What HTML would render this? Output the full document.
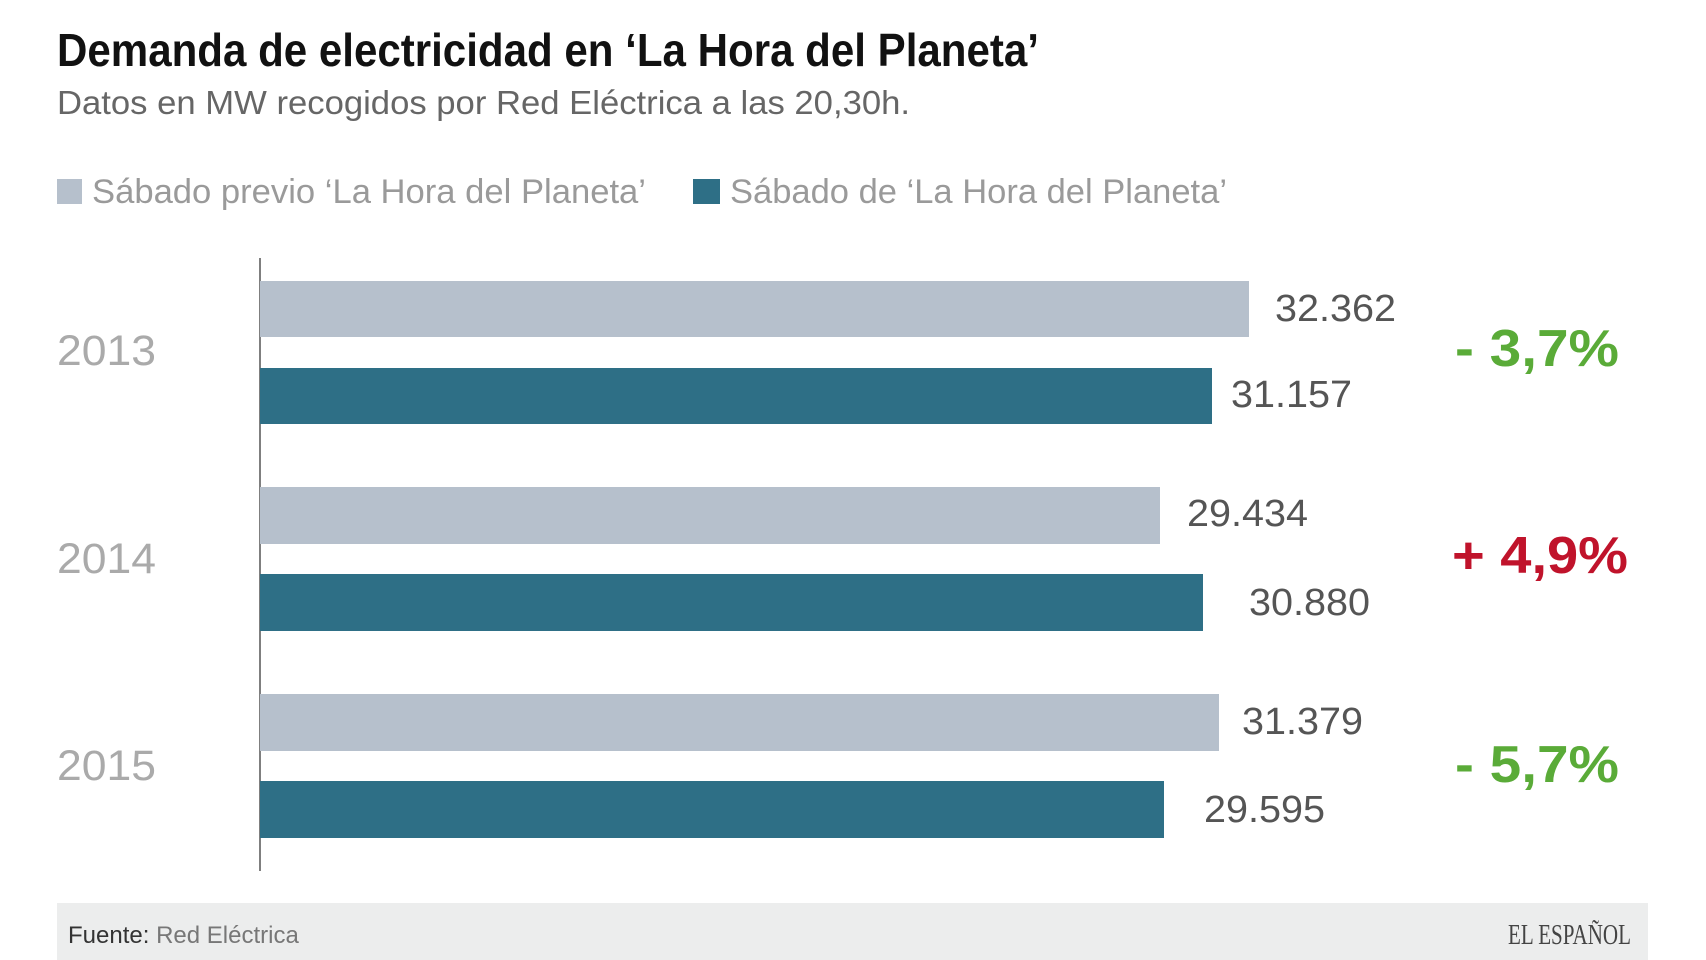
<!DOCTYPE html>
<html><head><meta charset="utf-8"><style>html,body{margin:0;padding:0;background:#fff}svg{display:block}</style></head>
<body>
<svg width="1706" height="960" viewBox="0 0 1706 960" xmlns="http://www.w3.org/2000/svg" font-family="'Liberation Sans', sans-serif">
<rect width="1706" height="960" fill="#fff"/>
<text x="57" y="66" font-size="46" font-weight="bold" fill="#111" textLength="982" lengthAdjust="spacingAndGlyphs">Demanda de electricidad en ‘La Hora del Planeta’</text>
<text x="57" y="114" font-size="33" fill="#666" textLength="853" lengthAdjust="spacingAndGlyphs">Datos en MW recogidos por Red Eléctrica a las 20,30h.</text>
<rect x="57" y="179" width="25" height="25" fill="#b6c0cc"/>
<text x="92" y="203" font-size="34" fill="#9a9a9a" textLength="554" lengthAdjust="spacingAndGlyphs">Sábado previo ‘La Hora del Planeta’</text>
<rect x="693" y="179" width="27" height="25" fill="#2e6f86"/>
<text x="730" y="203" font-size="34" fill="#9a9a9a" textLength="497" lengthAdjust="spacingAndGlyphs">Sábado de ‘La Hora del Planeta’</text>
<line x1="260" y1="258" x2="260" y2="871" stroke="#555" stroke-width="1.5"/>
<g>
<rect x="260" y="281" width="989" height="56" fill="#b6c0cc"/>
<rect x="260" y="368" width="952" height="56" fill="#2e6f86"/>
<rect x="260" y="487" width="900" height="57" fill="#b6c0cc"/>
<rect x="260" y="574" width="943" height="57" fill="#2e6f86"/>
<rect x="260" y="694" width="959" height="57" fill="#b6c0cc"/>
<rect x="260" y="781" width="904" height="57" fill="#2e6f86"/>
</g>
<g font-size="38" fill="#555">
<text x="1275" y="321" textLength="121" lengthAdjust="spacingAndGlyphs">32.362</text>
<text x="1231" y="407" textLength="121" lengthAdjust="spacingAndGlyphs">31.157</text>
<text x="1187" y="526" textLength="121" lengthAdjust="spacingAndGlyphs">29.434</text>
<text x="1249" y="615" textLength="121" lengthAdjust="spacingAndGlyphs">30.880</text>
<text x="1242" y="734" textLength="121" lengthAdjust="spacingAndGlyphs">31.379</text>
<text x="1204" y="822" textLength="121" lengthAdjust="spacingAndGlyphs">29.595</text>
</g>
<g font-size="43" fill="#aaa">
<text x="57" y="365" textLength="99" lengthAdjust="spacingAndGlyphs">2013</text>
<text x="57" y="573" textLength="99" lengthAdjust="spacingAndGlyphs">2014</text>
<text x="57" y="780" textLength="99" lengthAdjust="spacingAndGlyphs">2015</text>
</g>
<g font-size="52" font-weight="bold">
<text x="1455" y="366" fill="#5aab38" textLength="164" lengthAdjust="spacingAndGlyphs">- 3,7%</text>
<text x="1452" y="573" fill="#c0132b" textLength="176" lengthAdjust="spacingAndGlyphs">+ 4,9%</text>
<text x="1455" y="782" fill="#5aab38" textLength="164" lengthAdjust="spacingAndGlyphs">- 5,7%</text>
</g>
<rect x="57" y="903" width="1591" height="57" fill="#eceded"/>
<text x="68" y="943" font-size="24" fill="#333">Fuente: <tspan fill="#777">Red Eléctrica</tspan></text>
<text x="1631" y="944" font-size="29" fill="#444" font-family="'Liberation Serif', serif" text-anchor="end" textLength="123" lengthAdjust="spacingAndGlyphs">EL ESPAÑOL</text>
</svg>
</body></html>
